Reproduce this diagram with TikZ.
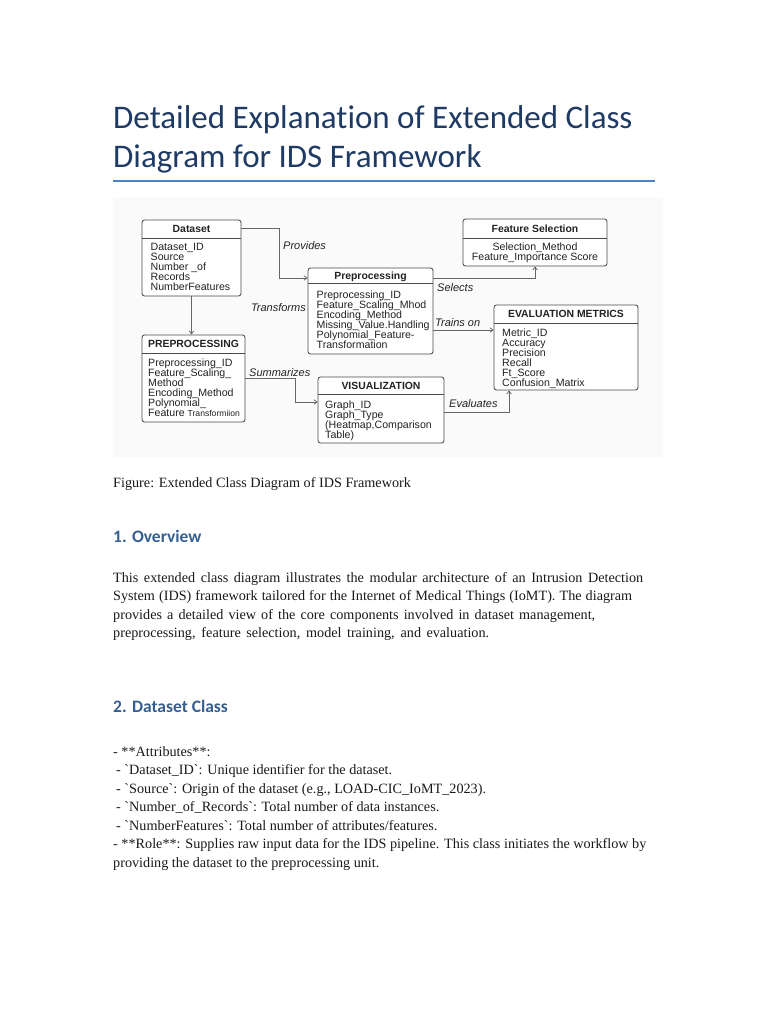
\documentclass[tikz,border=0pt]{standalone}
\usepackage{fontspec}
\setmainfont{Liberation Serif}
\newfontfamily\bodyfont{Liberation Serif}
\newfontfamily\titlefont[Ligatures=CommonOff]{Carlito}
\newfontfamily\diagfont{Liberation Sans}
\usetikzlibrary{arrows.meta}
\definecolor{titleblue}{HTML}{1F3B64}
\definecolor{ruleblue}{HTML}{4F81BD}
\definecolor{headblue}{HTML}{365F91}
\definecolor{bodytext}{HTML}{1A1A1A}
\definecolor{boxc}{HTML}{4A4A4A}
\definecolor{connc}{HTML}{666666}
\definecolor{diagbg}{HTML}{FAFAFA}
\definecolor{diagtext}{HTML}{222222}
\begin{document}
\begin{tikzpicture}[x=1pt,y=-1pt,
 ttl/.style={font=\titlefont\fontsize{33}{40}\selectfont, text=titleblue, anchor=base west, inner sep=0},
 hd/.style={font=\titlefont\bfseries\fontsize{17.5}{21}\selectfont, text=headblue, anchor=base west, inner sep=0},
 bodyline/.style={font=\bodyfont\fontsize{14.2}{18}\selectfont, text=bodytext, anchor=base west, inner sep=0},
 cbox/.style={draw=boxc, fill=white, rounded corners=2.5pt, line width=0.85pt, inner sep=0},
 divline/.style={draw=boxc, line width=0.85pt},
 ctitle/.style={font=\diagfont\bfseries\fontsize{10.4}{10}\selectfont, text=diagtext, inner sep=0, anchor=base},
 attrs/.style={font=\diagfont\fontsize{10.6}{10}\selectfont, text=diagtext, align=left, anchor=north west, inner sep=0},
 rel/.style={font=\diagfont\itshape\fontsize{11}{12}\selectfont, text=diagtext, inner sep=0, anchor=base west},
 conn/.style={draw=connc, line width=0.75pt, -{Straight Barb[length=3pt,width=4.5pt]}},
]
\useasboundingbox (0,0) rectangle (768,1024);
\fill[white] (0,0) rectangle (768,1024);

% ---------- title ----------
\node[ttl] (t1) at (113,129) {Detailed Explanation of Extended Class};
\node[ttl] (t2) at (113,168) {Diagram for IDS Framework};
\draw[ruleblue, line width=1.6pt] (113,181) -- (655,181);

% ---------- diagram ----------
\fill[diagbg] (113,197) rectangle (663,457);

\node[cbox, minimum width=99, minimum height=76] (ds) at (191.5,258) {};
\node[cbox, minimum width=125, minimum height=86] (pp) at (370.5,311) {};
\node[cbox, minimum width=144, minimum height=47] (fs) at (535,242.5) {};
\node[cbox, minimum width=144, minimum height=85] (ev) at (566,347.5) {};
\node[cbox, minimum width=126, minimum height=66] (vis) at (381,410) {};
\node[cbox, minimum width=103, minimum height=87] (prep) at (193.5,378.5) {};

\draw[divline] (ds.west |- 0,238) -- (ds.east |- 0,238);
\draw[divline] (pp.west |- 0,283) -- (pp.east |- 0,283);
\draw[divline] (fs.west |- 0,238) -- (fs.east |- 0,238);
\draw[divline] (ev.west |- 0,323) -- (ev.east |- 0,323);
\draw[divline] (vis.west |- 0,394) -- (vis.east |- 0,394);
\draw[divline] (prep.west |- 0,353) -- (prep.east |- 0,353);

\node[ctitle] (ds-t) at (ds.center |- 0,232.7) {Dataset};
\node[ctitle] (pp-t) at (pp.center |- 0,279.2) {Preprocessing};
\node[ctitle] (fs-t) at (fs.center |- 0,232.7) {Feature Selection};
\node[ctitle] (ev-t) at (ev.center |- 0,317.7) {EVALUATION METRICS};
\node[ctitle] (vis-t) at (vis.center |- 0,389.2) {VISUALIZATION};
\node[ctitle] (prep-t) at (prep.center |- 0,347.7) {PREPROCESSING};

\node[attrs] (ds-a) at (150.5,243.3) {Dataset\_ID\\Source\\Number \_of\\Records\\NumberFeatures};
\node[attrs] (pp-a) at (316.5,290.3) {Preprocessing\_ID\\Feature\_Scaling\_Mhod\\Encoding\_Method\\Missing\_Value.Handling\\Polynomial\_Feature-\\Transformation};
\node[attrs, align=center, anchor=north] (fs-a) at (535,242.3) {Selection\_Method\\Feature\_Importance Score};
\node[attrs] (ev-a) at (502,328.3) {Metric\_ID\\Accuracy\\Precision\\Recall\\Ft\_Score\\Confusion\_Matrix};
\node[attrs] (vis-a) at (325,400.3) {Graph\_ID\\Graph\_Type\\(Heatmap,Comparison\\Table)};
\node[attrs] (prep-a) at (148,358.3) {Preprocessing\_ID\\Feature\_Scaling\_\\Method\\Encoding\_Method\\Polynomial\_\\Feature {\fontsize{8.6}{10}\selectfont Transformiion}};

% connectors
\draw[conn] (ds.east |- 0,228) -- (279,228) |- (pp.west |- 0,278);
\draw[conn] (ds.south) -- (ds.south |- prep.north);
\draw[conn] (pp.east |- 0,278) -| (fs.south);
\draw[conn] (pp.east |- 0,330) -- (ev.west |- 0,330);
\draw[conn] (prep.east |- 0,378) -- (295,378) |- (vis.west |- 0,402);
\draw[conn] (vis.east |- 0,412) -| (ev.south -| 509,0);

\node[rel] (l-prov) at (283,249) {Provides};
\node[rel, anchor=base east] (l-trans) at (306,311.5) {Transforms};
\node[rel] (l-sel) at (437,291) {Selects};
\node[rel] (l-train) at (435,326) {Trains on};
\node[rel] (l-sum) at (249,376) {Summarizes};
\node[rel] (l-eval) at (449,407) {Evaluates};

% ---------- body text ----------
\node[bodyline] (cap) at (113,487) {Figure: Extended Class Diagram of IDS Framework};
\node[hd] (h1) at (113,542) {1. Overview};
\node[bodyline] (p1) at (113,582) {\makebox[530pt][s]{This extended class diagram illustrates the modular architecture of an Intrusion Detection}};
\node[bodyline] (p2) at (113,600.5) {\makebox[519pt][s]{System (IDS) framework tailored for the Internet of Medical Things (IoMT). The diagram}};
\node[bodyline] (p3) at (113,619) {\makebox[482pt][s]{provides a detailed view of the core components involved in dataset management,}};
\node[bodyline] (p4) at (113,637.5) {\makebox[376pt][s]{preprocessing, feature selection, model training, and evaluation.}};
\node[hd] (h2) at (113,712) {2. Dataset Class};
\node[bodyline] (q1) at (113,756) {- **Attributes**:};
\node[bodyline] (q2) at (116,774.5) {- `Dataset\_ID`: Unique identifier for the dataset.};
\node[bodyline] (q3) at (116,793) {- `Source`: Origin of the dataset (e.g., LOAD-CIC\_IoMT\_2023).};
\node[bodyline] (q4) at (116,811.5) {- `Number\_of\_Records`: Total number of data instances.};
\node[bodyline] (q5) at (116,830) {- `NumberFeatures`: Total number of attributes/features.};
\node[bodyline] (q6) at (113,848.5) {- **Role**: Supplies raw input data for the IDS pipeline. This class initiates the workflow by};
\node[bodyline] (q7) at (113,867) {providing the dataset to the preprocessing unit.};
\end{tikzpicture}
\end{document}
